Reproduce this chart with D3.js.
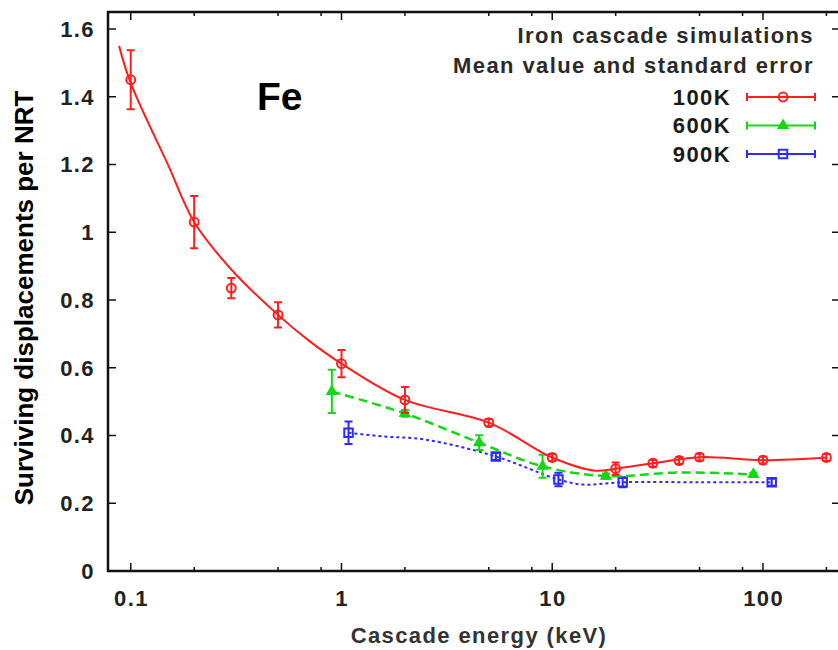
<!DOCTYPE html>
<html>
<head>
<meta charset="utf-8">
<script src="https://cdn.jsdelivr.net/npm/d3@7"></script>
<style>
  html, body { margin: 0; padding: 0; background: #fff; }
  svg { display: block; }
  text { font-family: "Liberation Sans", Arial, sans-serif; }
</style>
</head>
<body>
<div id="chart"></div>
<script>
// values (energy in keV)
var energy100 = [0.1, 0.2, 0.3, 0.5, 1, 2, 5, 10, 20, 30, 40, 50, 100, 200];
var value100 = [1.45, 1.03, 0.835, 0.756, 0.612, 0.505, 0.438, 0.335, 0.302, 0.318, 0.326, 0.336, 0.327, 0.335];
var error100 = [0.087, 0.077, 0.03, 0.037, 0.04, 0.038, 0.011, 0.01, 0.018, 0.01, 0.01, 0.01, 0.01, 0.01];
var fitEnergy100 = [0.088, 0.1, 0.15, 0.2, 0.3, 0.5, 0.7, 1, 2, 5, 10, 16, 20, 30, 50, 100, 200];
var fitValue100 = [1.55, 1.44, 1.2, 1.03, 0.89, 0.756, 0.68, 0.612, 0.505, 0.438, 0.335, 0.296, 0.302, 0.318, 0.336, 0.327, 0.335];

var energy600 = [0.9, 2, 4.5, 9, 18, 90];
var value600 = [0.53, 0.465, 0.379, 0.309, 0.28, 0.285];
var error600 = [0.064, 0.01, 0.022, 0.034, 0.008, 0.005];
var fitEnergy600 = [0.9, 2, 4.5, 9, 18, 40, 90];
var fitValue600 = [0.53, 0.465, 0.379, 0.309, 0.28, 0.291, 0.285];

var energy900 = [1.08, 5.4, 10.7, 21.6, 110];
var value900 = [0.408, 0.338, 0.27, 0.262, 0.262];
var error900 = [0.033, 0.01, 0.02, 0.015, 0.01];
var fitEnergy900 = [1.08, 1.6, 2.5, 5.4, 10.7, 14, 21.6, 50, 110];
var fitValue900 = [0.408, 0.397, 0.388, 0.338, 0.27, 0.255, 0.262, 0.262, 0.262];

var xMajorTicks = [0.1, 1, 10, 100];
var xMinorTicks = [0.2, 0.5, 0.8, 2, 5, 8, 20, 50, 80, 200];
var yTicks = [0, 0.2, 0.4, 0.6, 0.8, 1, 1.2, 1.4, 1.6];

var titleLines = ['Iron cascade simulations', 'Mean value and standard error'];
var seriesNames = ['100K', '600K', '900K'];

var width = 838, height = 650;
var frame = { left: 108, right: 840, top: 12, bottom: 571 };
var font = '"Liberation Sans", Arial, sans-serif';

var series = [
  { name: seriesNames[0], color: '#ff1e1e', dash: null, width: 2, symbol: d3.symbolCircle, size: 62, fill: 'none',
    e: energy100, v: value100, err: error100, fe: fitEnergy100, fv: fitValue100 },
  { name: seriesNames[1], color: '#16d616', dash: '9,5', width: 2.5, symbol: d3.symbolTriangle, size: 34, fill: '#16d616',
    e: energy600, v: value600, err: error600, fe: fitEnergy600, fv: fitValue600 },
  { name: seriesNames[2], color: '#2b2bff', dash: '3,3', width: 2, symbol: d3.symbolSquare, size: 72, fill: 'none',
    e: energy900, v: value900, err: error900, fe: fitEnergy900, fv: fitValue900 }
];

var x = d3.scaleLog()
    .domain([0.078, 232])
    .range([frame.left, frame.right]);

var y = d3.scaleLinear()
    .domain([0, 1.65])
    .range([frame.bottom, frame.top]);

var svg = d3.select('#chart').append('svg')
    .attr('width', width)
    .attr('height', height);

svg.append('rect')
    .attr('width', width)
    .attr('height', height)
    .attr('fill', '#fff');

// frame ticks (mirrored on top and right like gnuplot)
var ticks = svg.append('g')
    .attr('stroke', '#111')
    .attr('stroke-width', 1.5);

ticks.selectAll('.xmaj')
    .data(xMajorTicks)
  .enter().append('path')
    .attr('d', function (d) {
      var px = x(d);
      return 'M' + px + ',' + frame.bottom + 'v-8M' + px + ',' + frame.top + 'v8';
    });

ticks.selectAll('.xmin')
    .data(xMinorTicks)
  .enter().append('path')
    .attr('d', function (d) {
      var px = x(d);
      return 'M' + px + ',' + frame.bottom + 'v-4M' + px + ',' + frame.top + 'v4';
    });

ticks.selectAll('.ytick')
    .data(yTicks)
  .enter().append('path')
    .attr('d', function (d) {
      var py = y(d);
      return 'M' + frame.left + ',' + py + 'h8M' + frame.right + ',' + py + 'h-8';
    });

svg.append('rect')
    .attr('x', frame.left)
    .attr('y', frame.top)
    .attr('width', frame.right - frame.left)
    .attr('height', frame.bottom - frame.top)
    .attr('fill', 'none')
    .attr('stroke', '#111')
    .attr('stroke-width', 2.5);

// tick labels
svg.append('g').selectAll('text')
    .data(xMajorTicks)
  .enter().append('text')
    .attr('x', function (d) { return x(d) + 0.7; })
    .attr('y', 606)
    .attr('text-anchor', 'middle')
    .style('font', 'bold 22px ' + font)
    .style('letter-spacing', '1.4px')
    .attr('fill', '#222')
    .text(function (d) { return d; });

svg.append('g').selectAll('text')
    .data(yTicks)
  .enter().append('text')
    .attr('x', 95)
    .attr('y', function (d) { return y(d); })
    .attr('dy', '0.36em')
    .attr('text-anchor', 'end')
    .style('font', 'bold 22px ' + font)
    .style('letter-spacing', '1.4px')
    .attr('fill', '#222')
    .text(function (d) { return d; });

svg.append('text')
    .attr('x', 479)
    .attr('y', 643)
    .attr('text-anchor', 'middle')
    .style('font', 'bold 22px ' + font)
    .style('letter-spacing', '1.4px')
    .attr('fill', '#333')
    .text('Cascade energy (keV)');

svg.append('text')
    .attr('transform', 'translate(33,298) rotate(-90)')
    .attr('text-anchor', 'middle')
    .style('font', 'bold 26px ' + font)
    .attr('fill', '#000')
    .text('Surviving displacements per NRT');

svg.append('text')
    .attr('x', 257)
    .attr('y', 110)
    .style('font', 'bold 39px ' + font)
    .attr('fill', '#000')
    .text('Fe');

// smooth fit curves, then error bars and points on top
var line = d3.line()
    .x(function (d) { return x(d[0]); })
    .y(function (d) { return y(d[1]); })
    .curve(d3.curveCatmullRom.alpha(0.5));

var plot = svg.append('g');

series.slice().reverse().forEach(function (s) {
  var g = plot.append('g');

  g.append('path')
      .datum(s.fe.map(function (e, i) { return [e, s.fv[i]]; }))
      .attr('d', line)
      .attr('fill', 'none')
      .attr('stroke', s.color)
      .attr('stroke-width', s.width)
      .attr('stroke-dasharray', s.dash);

  var pts = s.e.map(function (e, i) { return { e: e, v: s.v[i], err: s.err[i] }; });

  g.selectAll('.err')
      .data(pts)
    .enter().append('path')
      .attr('d', function (d) {
        var px = x(d.e), y0 = y(d.v - d.err), y1 = y(d.v + d.err);
        return 'M' + px + ',' + y0 + 'V' + y1 +
          'M' + (px - 4) + ',' + y0 + 'h8M' + (px - 4) + ',' + y1 + 'h8';
      })
      .attr('fill', 'none')
      .attr('stroke', s.color)
      .attr('stroke-width', 2);

  g.selectAll('.pt')
      .data(pts)
    .enter().append('path')
      .attr('transform', function (d) { return 'translate(' + x(d.e) + ',' + y(d.v) + ')'; })
      .attr('d', d3.symbol().type(s.symbol).size(s.size))
      .attr('fill', s.fill)
      .attr('stroke', s.color)
      .attr('stroke-width', 2);
});

// key
var key = svg.append('g');

key.selectAll('.title')
    .data(titleLines)
  .enter().append('text')
    .attr('x', 814)
    .attr('y', function (d, i) { return 43 + i * 30; })
    .attr('text-anchor', 'end')
    .style('font', 'bold 22px ' + font)
    .style('letter-spacing', '1.4px')
    .attr('fill', '#2a2a2a')
    .text(function (d) { return d; });

var row = key.selectAll('.row')
    .data(series)
  .enter().append('g')
    .attr('transform', function (d, i) { return 'translate(0,' + (97 + i * 28.5) + ')'; });

row.append('text')
    .attr('x', 731)
    .attr('dy', '0.36em')
    .attr('text-anchor', 'end')
    .style('font', 'bold 22px ' + font)
    .style('letter-spacing', '1.4px')
    .attr('fill', '#1a1a1a')
    .text(function (d) { return d.name; });

row.append('path')
    .attr('d', 'M747,0H815M747,-4v8M815,-4v8')
    .attr('fill', 'none')
    .attr('stroke', function (d) { return d.color; })
    .attr('stroke-width', 2);

row.append('path')
    .attr('transform', 'translate(783,0)')
    .attr('d', function (d) { return d3.symbol().type(d.symbol).size(d.size)(); })
    .attr('fill', function (d) { return d.fill; })
    .attr('stroke', function (d) { return d.color; })
    .attr('stroke-width', 2);
</script>
</body>
</html>
